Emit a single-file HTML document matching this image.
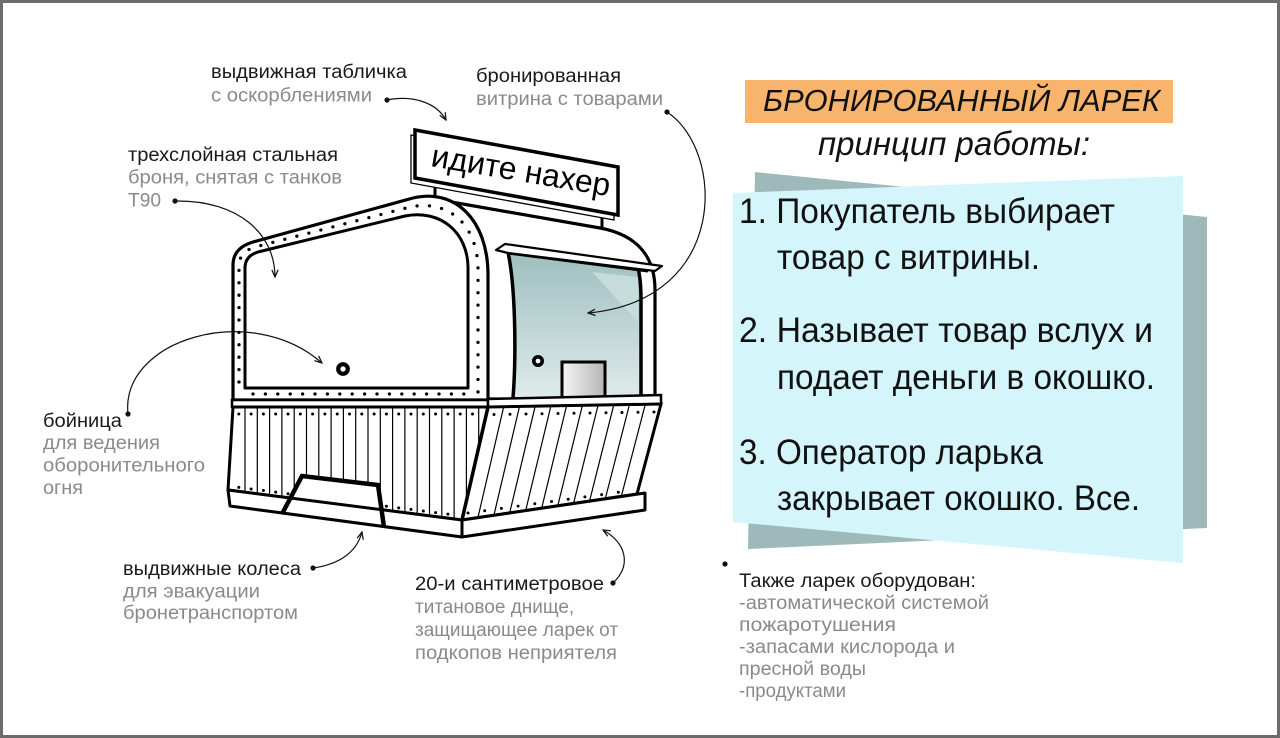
<!DOCTYPE html>
<html><head><meta charset="utf-8">
<style>
html,body{margin:0;padding:0;background:#fff;}
body{width:1280px;height:738px;overflow:hidden;position:relative;}
svg{position:absolute;left:0;top:0;}
</style></head><body>
<svg width="1280" height="738" viewBox="0 0 1280 738" xmlns="http://www.w3.org/2000/svg" font-family="'Liberation Sans', Arial, sans-serif">
<defs>
 <linearGradient id="glass" x1="0" y1="0" x2="0" y2="1">
  <stop offset="0" stop-color="#9dbfbe"/>
  <stop offset="1" stop-color="#dfeaea"/>
 </linearGradient>
 <linearGradient id="win" x1="0" y1="0" x2="1" y2="0">
  <stop offset="0" stop-color="#f6f6f6"/>
  <stop offset="1" stop-color="#b5b5b5"/>
 </linearGradient>
 <marker id="ar" viewBox="0 0 10 10" refX="9" refY="5" markerWidth="9" markerHeight="9" markerUnits="userSpaceOnUse" orient="auto">
   <path d="M1,1.5 L9,5 L1,8.5" fill="none" stroke="#111" stroke-width="1.4"/>
 </marker>
 <clipPath id="lf"><polygon points="233,407 488,407 462,520 228,490"/></clipPath>
 <clipPath id="rf"><polygon points="488,407 661,404 637,494 462,520"/></clipPath>
</defs>

<rect x="1.5" y="1.5" width="1277" height="735" fill="#fff" stroke="#6b6b6b" stroke-width="3"/>

<!-- right panel -->
<polygon points="755,172 1207,217 1207,528 748,549" fill="#9db9b9"/>
<polygon points="733,193 1183,176 1183,563 733,522" fill="#d4f6fb"/>

<rect x="745" y="80" width="428" height="43" fill="#f8b46d"/>
<text x="763" y="111" font-size="31" font-style="italic" fill="#111" textLength="397" lengthAdjust="spacingAndGlyphs">БРОНИРОВАННЫЙ ЛАРЕК</text>
<text x="818" y="155" font-size="33" font-style="italic" fill="#111" textLength="272" lengthAdjust="spacingAndGlyphs">принцип работы:</text>

<g font-size="35" fill="#111">
<text x="739" y="223" textLength="376" lengthAdjust="spacingAndGlyphs">1. Покупатель выбирает</text>
<text x="777" y="269" textLength="263" lengthAdjust="spacingAndGlyphs">товар с витрины.</text>
<text x="739" y="342" textLength="414" lengthAdjust="spacingAndGlyphs">2. Называет товар вслух и</text>
<text x="777" y="389" textLength="378" lengthAdjust="spacingAndGlyphs">подает деньги в окошко.</text>
<text x="739" y="464" textLength="304" lengthAdjust="spacingAndGlyphs">3. Оператор ларька</text>
<text x="777" y="510" textLength="363" lengthAdjust="spacingAndGlyphs">закрывает окошко. Все.</text>
</g>

<circle cx="725" cy="564" r="2.6" fill="#111"/>
<g font-size="19">
<text x="739" y="587" fill="#1a1a1a" textLength="237" lengthAdjust="spacingAndGlyphs">Также ларек оборудован:</text>
<text x="739" y="609" fill="#8a8a8a" textLength="250" lengthAdjust="spacingAndGlyphs">-автоматической системой</text>
<text x="739" y="631" fill="#8a8a8a" textLength="157" lengthAdjust="spacingAndGlyphs">пожаротушения</text>
<text x="739" y="653" fill="#8a8a8a" textLength="216" lengthAdjust="spacingAndGlyphs">-запасами кислорода и</text>
<text x="739" y="675" fill="#8a8a8a" textLength="127" lengthAdjust="spacingAndGlyphs">пресной воды</text>
<text x="739" y="697" fill="#8a8a8a" textLength="107" lengthAdjust="spacingAndGlyphs">-продуктами</text>
</g>

<!-- left labels -->
<g font-size="19">
<text x="211" y="78" fill="#1a1a1a" textLength="196" lengthAdjust="spacingAndGlyphs">выдвижная табличка</text>
<text x="211" y="101.5" fill="#8a8a8a" textLength="161" lengthAdjust="spacingAndGlyphs">с оскорблениями</text>
<text x="128" y="161" fill="#1a1a1a" textLength="210" lengthAdjust="spacingAndGlyphs">трехслойная стальная</text>
<text x="128" y="183.5" fill="#8a8a8a" textLength="214" lengthAdjust="spacingAndGlyphs">броня, снятая с танков</text>
<text x="128" y="206.5" fill="#8a8a8a" textLength="33" lengthAdjust="spacingAndGlyphs">T90</text>
<text x="476" y="82" fill="#1a1a1a" textLength="145" lengthAdjust="spacingAndGlyphs">бронированная</text>
<text x="476" y="105" fill="#8a8a8a" textLength="187" lengthAdjust="spacingAndGlyphs">витрина с товарами</text>
<text x="43" y="427" fill="#1a1a1a" textLength="79" lengthAdjust="spacingAndGlyphs">бойница</text>
<text x="43" y="449" fill="#8a8a8a" textLength="117" lengthAdjust="spacingAndGlyphs">для ведения</text>
<text x="43" y="471.5" fill="#8a8a8a" textLength="162" lengthAdjust="spacingAndGlyphs">оборонительного</text>
<text x="43" y="494" fill="#8a8a8a" textLength="40" lengthAdjust="spacingAndGlyphs">огня</text>
<text x="123" y="575" fill="#1a1a1a" textLength="178" lengthAdjust="spacingAndGlyphs">выдвижные колеса</text>
<text x="123" y="597.5" fill="#8a8a8a" textLength="137" lengthAdjust="spacingAndGlyphs">для эвакуации</text>
<text x="123" y="619" fill="#8a8a8a" textLength="175" lengthAdjust="spacingAndGlyphs">бронетранспортом</text>
<text x="415" y="590" fill="#1a1a1a" textLength="189" lengthAdjust="spacingAndGlyphs">20-и сантиметровое</text>
<text x="415" y="613" fill="#8a8a8a">титановое днище,</text>
<text x="415" y="636" fill="#8a8a8a">защищающее ларек от</text>
<text x="415" y="659" fill="#8a8a8a" textLength="202" lengthAdjust="spacingAndGlyphs">подкопов неприятеля</text>
</g>

<!-- kiosk -->
<line x1="435" y1="180" x2="435" y2="202" stroke="#000" stroke-width="3"/>
<line x1="602" y1="212" x2="602" y2="231" stroke="#000" stroke-width="3"/>

<path d="M440,200 L600,228 C632,234 655,252 655,290 L655,399 L485,399 Z" fill="#fff" stroke="#000" stroke-width="3.2" stroke-linejoin="round"/>

<path d="M508,252 C516,290 516,360 513,398 L641,398 L641,300 C641,288 640,276 638,268 Z" fill="url(#glass)"/>
<polygon points="592,272 638,277 638,322" fill="#cadfde" opacity="0.85"/>
<path d="M508,252 C516,290 516,360 513,398" stroke="#000" stroke-width="3.5" fill="none"/>
<path d="M638,268 C640,276 641,288 641,300 L641,398" stroke="#000" stroke-width="3.5" fill="none"/>
<line x1="508" y1="253" x2="648" y2="271" stroke="#000" stroke-width="3"/>
<polygon points="496,250 505,244 662,266 655,271 508,253" fill="#fff" stroke="#000" stroke-width="2.2" stroke-linejoin="round"/>
<rect x="562" y="362" width="43" height="36" fill="url(#win)" stroke="#000" stroke-width="3"/>
<circle cx="538" cy="361" r="4.2" fill="#fff" stroke="#000" stroke-width="3.6"/>

<path d="M233,400 L233,265 Q233,248 253,242 L413,198 C455,188 488,220 488,275 L488,400 Z" fill="#fff" stroke="#000" stroke-width="3.2" stroke-linejoin="round"/>
<path d="M245,388 L245,268 Q245,256 258,252 L405,216 C440,209 468,232 468,268 L468,388 Z" fill="#fff" stroke="#000" stroke-width="3" stroke-linejoin="round"/>
<path d="M239,382 L239,266 Q239,252 255,247 L410,207 C450,199 478,226 478,270 L478,394 M253,394 L466,394" fill="none" stroke="#000" stroke-width="3.3" stroke-linecap="round" stroke-dasharray="0 12.4"/>
<circle cx="343" cy="369" r="4.8" fill="#fff" stroke="#000" stroke-width="4.2"/>

<polygon points="411,135 614,172 614,220 411,183" fill="#fff" stroke="#000" stroke-width="1.3"/>
<polygon points="415,130 618,167 618,215 415,178" fill="#fff" stroke="#000" stroke-width="3.5"/>
<text x="430" y="166" font-size="32" fill="#000" transform="rotate(9.6 430 166)" textLength="181" lengthAdjust="spacingAndGlyphs">идите нахер</text>

<polygon points="232,400 488,400 488,407 232,407" fill="#fff" stroke="#000" stroke-width="2.5"/>
<polygon points="488,399 661,395 661,404 488,407" fill="#fff" stroke="#000" stroke-width="2.5"/>

<polygon points="233,407 488,407 462,520 228,490" fill="#fff" stroke="#000" stroke-width="3"/>
<g clip-path="url(#lf)" stroke="#000" stroke-width="1.2">
<path d="M245,407V540M257.3,407V540M269.6,407V540M281.9,407V540M294.2,407V540M306.5,407V540M318.8,407V540M331.1,407V540M343.4,407V540M355.7,407V540M368,407V540M380.3,407V540M392.6,407V540M404.9,407V540M417.2,407V540M429.5,407V540M441.8,407V540M454.1,407V540M466.4,407V540M478.7,407V540"/>
</g>
<path d="M238.8,414 L478,414" stroke="#000" stroke-width="3" stroke-linecap="round" stroke-dasharray="0 12.3" clip-path="url(#lf)"/>
<path d="M238.8,487.4 L460,515.7" stroke="#000" stroke-width="3" stroke-linecap="round" stroke-dasharray="0 12.4"/>

<polygon points="488,407 661,404 637,494 462,520" fill="#fff" stroke="#000" stroke-width="3"/>
<g clip-path="url(#rf)" stroke="#000" stroke-width="1.2">
<path d="M503.7,406.7L476.9,522 M519.5,406.5L492.8,520 M535.2,406.2L508.7,517 M550.9,405.9L524.6,515 M566.6,405.6L540.5,513 M582.4,405.4L556.5,511 M598.1,405.1L572.4,508 M613.8,404.8L588.3,506 M629.5,404.5L604.2,503 M645.3,404.3L620.1,501"/>
</g>
<path d="M494,414.5 L654,412" stroke="#000" stroke-width="3" stroke-linecap="round" stroke-dasharray="0 16"/>
<path d="M468,513 L635,490" stroke="#000" stroke-width="3" stroke-linecap="round" stroke-dasharray="0 16.86"/>
<line x1="488" y1="407" x2="462" y2="520" stroke="#000" stroke-width="3.5"/>

<polygon points="282,513 302,476 378,485 384,527" fill="#fff"/>
<polygon points="228,490 462,520 462,537 230,506" fill="#fff" stroke="#000" stroke-width="3" stroke-linejoin="round"/>
<polygon points="462,520 645,493 645,510 462,537" fill="#fff" stroke="#000" stroke-width="3" stroke-linejoin="round"/>
<polyline points="282,514 302,476 378,485 384,527" fill="none" stroke="#000" stroke-width="4.5"/>

<g fill="none" stroke="#111" stroke-width="1.2" marker-end="url(#ar)">
<path d="M387,100 C412,95 436,102 446,120"/>
<path d="M175,201 C240,200 275,235 275,277"/>
<path d="M128,414 C120,340 250,300 322,363"/>
<path d="M667,112 C725,150 730,300 588,313"/>
<path d="M313,568 C335,565 356,555 362,532"/>
<path d="M613,583 C632,565 626,543 603,530"/>
</g>
<g fill="#111">
<circle cx="387" cy="100" r="2.6"/>
<circle cx="175" cy="201" r="2.6"/>
<circle cx="128" cy="414" r="2.6"/>
<circle cx="667" cy="112" r="2.6"/>
<circle cx="313" cy="568" r="2.6"/>
<circle cx="613" cy="583" r="2.6"/>
</g>
</svg>
</body></html>
